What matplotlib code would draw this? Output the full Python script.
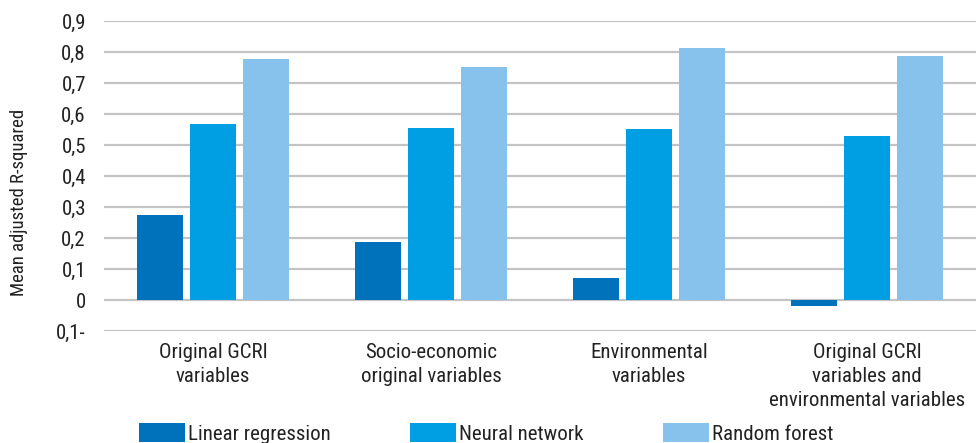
import numpy as np
import matplotlib.pyplot as plt
from matplotlib import font_manager

# data
categories = ['Original GCRI\nvariables', 'Socio-economic\noriginal variables',
              'Environmental\nvariables',
              'Original GCRI\nvariables and\nenvironmental variables']
linear_regression = [0.274, 0.187, 0.071, -0.02]
neural_network = [0.568, 0.555, 0.552, 0.529]
random_forest = [0.777, 0.752, 0.813, 0.787]
series_names = ['Linear regression', 'Neural network', 'Random forest']
ytick_values = [-0.1, 0, 0.1, 0.2, 0.3, 0.4, 0.5, 0.6, 0.7, 0.8, 0.9]
ytick_labels = ['0,1-', '0', '0,1', '0,2', '0,3', '0,4', '0,5', '0,6', '0,7', '0,8', '0,9']

colors = ['#0072bc', '#009fe3', '#86c2eb']

names = {f.name for f in font_manager.fontManager.ttflist}
fam = 'Liberation Sans'
for cand in ['Liberation Sans Narrow', 'Roboto Condensed', 'Open Sans Condensed', 'Liberation Sans']:
    if cand in names:
        fam = cand
        break
plt.rcParams['font.family'] = [fam, 'DejaVu Sans']
plt.rcParams['text.color'] = '#222222'

fig = plt.figure(figsize=(9.76, 4.43), dpi=100)
ax = fig.add_axes([104 / 976, 1 - 331 / 443, 1 - 104 / 976, 310 / 443])

x = np.arange(len(categories))
w = 0.21
step = w + 0.032
for i, vals in enumerate([linear_regression, neural_network, random_forest]):
    ax.bar(x + (i - 1) * step, vals, width=w, color=colors[i], label=series_names[i], zorder=3)

ax.set_xlim(-0.5, len(categories) - 0.5)
ax.set_ylim(-0.1, 0.9)
ax.set_yticks(ytick_values)
ax.set_yticklabels(ytick_labels, fontsize=15, color='#222222')
ax.set_xticks(x)
ax.set_xticklabels(categories, fontsize=15, color='#222222', linespacing=1.32)
ax.tick_params(axis='y', length=0, pad=13)
ax.tick_params(axis='x', length=0, pad=9)
ax.grid(axis='y', color='#c4c4c4', linewidth=1.6, zorder=0)
for s in ax.spines.values():
    s.set_visible(False)
ax.set_ylabel('Mean adjusted R-squared', fontsize=13.5, color='#222222')
ax.yaxis.set_label_coords(-0.087, 0.415)

fig.legend(loc='lower left', bbox_to_anchor=(131 / 976, -0.02), ncol=3, frameon=False,
           fontsize=15, handlelength=2.2, handleheight=1.0, handletextpad=0.15,
           columnspacing=3.8, borderaxespad=0)

fig.savefig('out.png', dpi=100)
